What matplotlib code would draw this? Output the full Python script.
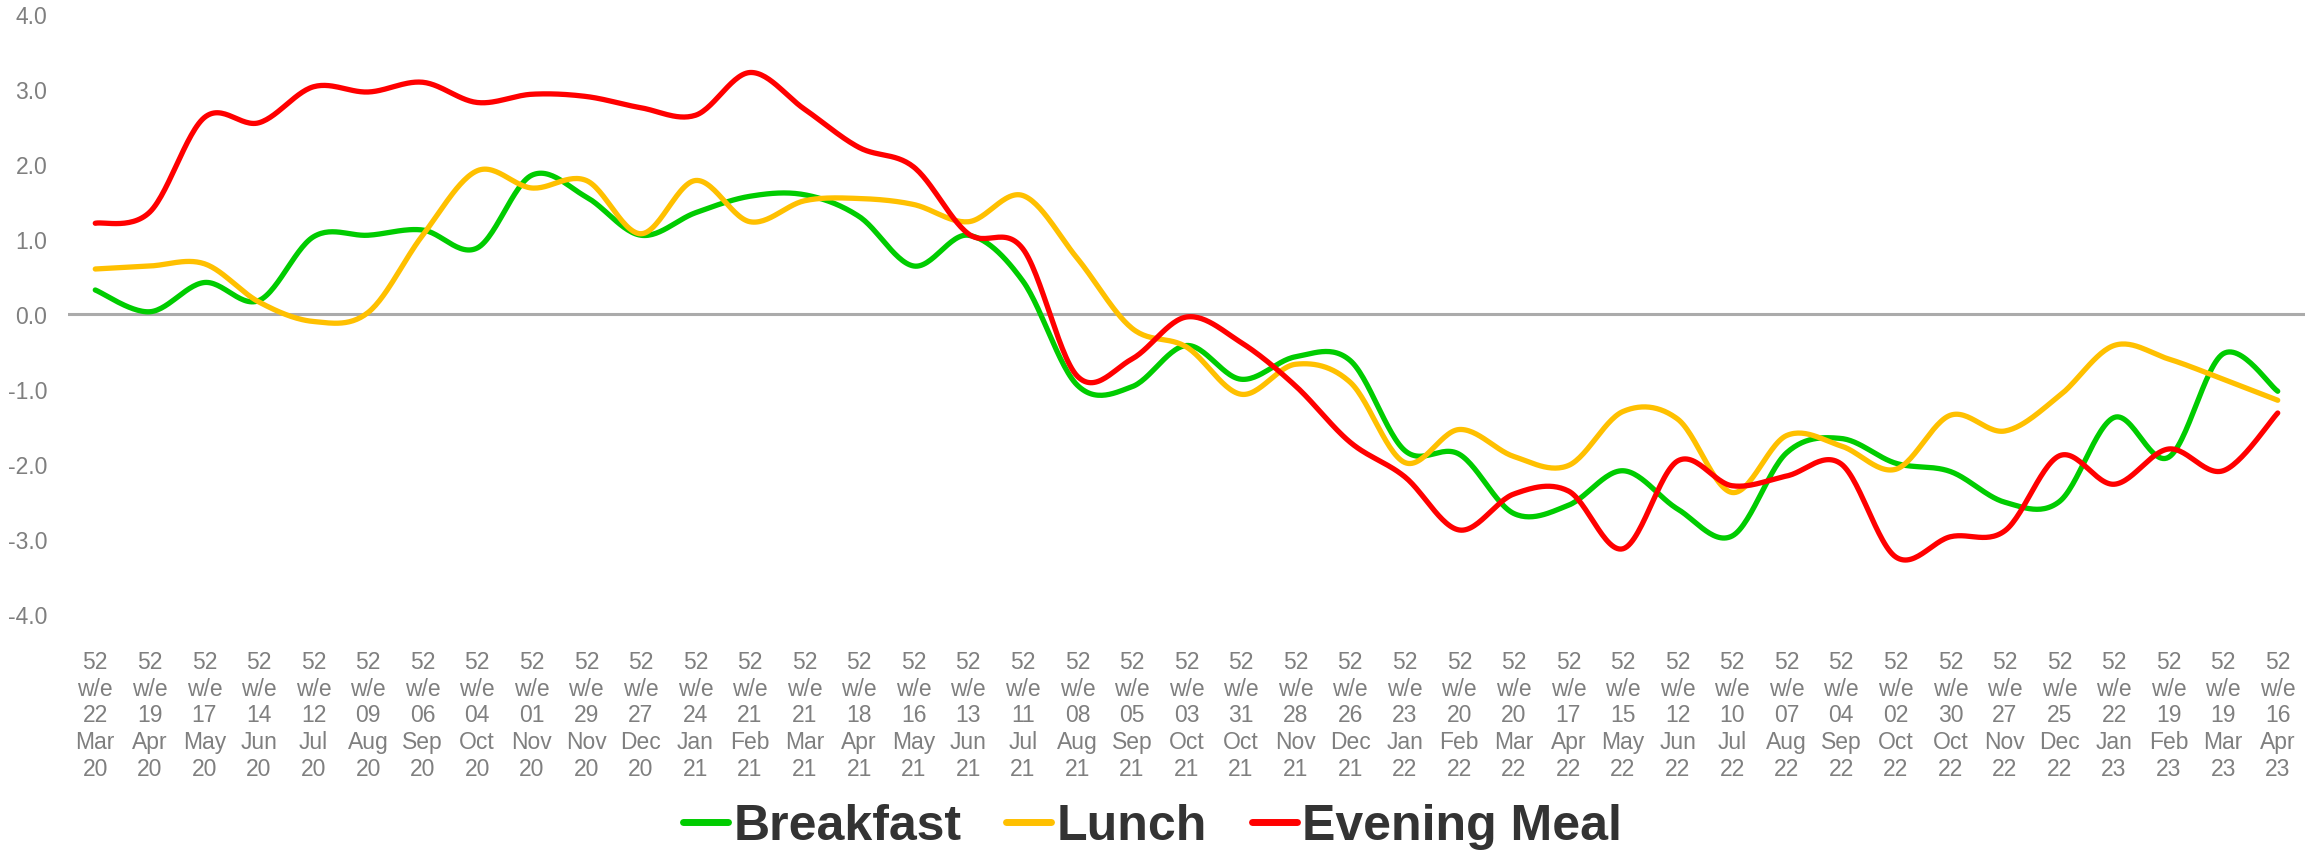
import numpy as np
import matplotlib
matplotlib.use("Agg")
import matplotlib.pyplot as plt

plt.rcParams['font.family'] = ['Liberation Sans Narrow', 'Liberation Sans', 'DejaVu Sans']

days = ["22", "19", "17", "14", "12", "09", "06", "04", "01", "29", "27", "24", "21", "21",
        "18", "16", "13", "11", "08", "05", "03", "31", "28", "26", "23", "20", "20", "17",
        "15", "12", "10", "07", "04", "02", "30", "27", "25", "22", "19", "19", "16"]
months = ["Mar", "Apr", "May", "Jun", "Jul", "Aug", "Sep", "Oct", "Nov", "Nov", "Dec", "Jan", "Feb", "Mar",
          "Apr", "May", "Jun", "Jul", "Aug", "Sep", "Oct", "Oct", "Nov", "Dec", "Jan", "Feb", "Mar", "Apr",
          "May", "Jun", "Jul", "Aug", "Sep", "Oct", "Oct", "Nov", "Dec", "Jan", "Feb", "Mar", "Apr"]
years = ["20"] * 11 + ["21"] * 13 + ["22"] * 13 + ["23"] * 4

breakfast = [0.32, 0.03, 0.42, 0.18, 1.03, 1.05, 1.12, 0.88, 1.85, 1.56, 1.05, 1.35, 1.57, 1.59,
             1.30, 0.64, 1.05, 0.44, -0.95, -0.97, -0.42, -0.87, -0.57, -0.62, -1.82, -1.87, -2.66, -2.55,
             -2.09, -2.60, -2.96, -1.85, -1.66, -1.99, -2.10, -2.51, -2.50, -1.38, -1.91, -0.53, -1.03]
lunch = [0.60, 0.64, 0.67, 0.16, -0.10, 0.02, 1.05, 1.91, 1.68, 1.78, 1.07, 1.78, 1.23, 1.51,
         1.54, 1.46, 1.23, 1.58, 0.74, -0.19, -0.44, -1.07, -0.67, -0.91, -1.98, -1.54, -1.90, -2.02,
         -1.30, -1.40, -2.38, -1.62, -1.76, -2.07, -1.35, -1.56, -1.09, -0.42, -0.60, -0.87, -1.15]
evening = [1.21, 1.36, 2.62, 2.55, 3.03, 2.96, 3.09, 2.82, 2.93, 2.90, 2.75, 2.65, 3.22, 2.73,
           2.22, 1.96, 1.07, 0.87, -0.83, -0.60, -0.04, -0.38, -0.96, -1.71, -2.17, -2.88, -2.40, -2.36,
           -3.13, -1.96, -2.29, -2.16, -2.00, -3.24, -2.97, -2.89, -1.89, -2.27, -1.80, -2.09, -1.32]

series_names = ["Breakfast", "Lunch", "Evening Meal"]
series_colors = ["#00CC00", "#FFC000", "#FF0000"]

labels = [f"52\nw/e\n{d}\n{m}\n{y}" for d, m, y in zip(days, months, years)]


def smooth(xv, yv, n=30):
    """Excel-like smoothed line (Catmull-Rom Bezier through the points)."""
    x = np.asarray(xv, float)
    y = np.asarray(yv, float)
    P = np.column_stack([x, y])
    out = []
    t = np.linspace(0, 1, n)[:, None]
    for i in range(len(P) - 1):
        p0 = P[i - 1] if i > 0 else P[i]
        p1 = P[i]
        p2 = P[i + 1]
        p3 = P[i + 2] if i + 2 < len(P) else P[i + 1]
        c1 = p1 + (p2 - p0) / 6.0
        c2 = p2 - (p3 - p1) / 6.0
        seg = ((1 - t) ** 3) * p1 + 3 * ((1 - t) ** 2) * t * c1 + 3 * (1 - t) * t ** 2 * c2 + t ** 3 * p2
        out.append(seg if i == 0 else seg[1:])
    out = np.vstack(out)
    return out[:, 0], out[:, 1]


fig = plt.figure(figsize=(23.05, 8.54), dpi=100)
ax = fig.add_axes([68 / 2305, 1 - 615 / 854, 1 - 68 / 2305, 600 / 854])

xs = np.arange(len(labels))
ax.axhline(0, color="#ABABAB", lw=2.2, zorder=1)
for name, vals, col in zip(series_names, [breakfast, lunch, evening], series_colors):
    sx, sy = smooth(xs, vals)
    ax.plot(sx, sy, color=col, lw=3.8, solid_capstyle="round", label=name, zorder=3)

ax.set_xlim(-0.5, len(labels) - 0.5)
ax.set_ylim(-4.0, 4.0)
ax.set_yticks(np.arange(-4, 4.01, 1.0))
ax.set_yticklabels([f"{v:.1f}" for v in np.arange(-4, 4.01, 1.0)])
ax.set_xticks(xs)
ax.set_xticklabels(labels, linespacing=1.2)
ax.tick_params(axis="x", length=0, pad=26, labelsize=16.5, labelcolor="#7F7F7F")
ax.tick_params(axis="y", length=0, pad=15, labelsize=16.5, labelcolor="#7F7F7F")
for s in ax.spines.values():
    s.set_visible(False)

leg = fig.legend(loc="center", bbox_to_anchor=(0.5, 1 - 827 / 854), ncol=3, frameon=False,
                 prop={"size": 36, "weight": "bold"}, handlelength=0.9, handletextpad=0.1,
                 columnspacing=0.9)
for t in leg.get_texts():
    t.set_color("#333333")
for h in leg.get_lines():
    h.set_linewidth(5)

fig.savefig("out.png", dpi=100, facecolor="white")
